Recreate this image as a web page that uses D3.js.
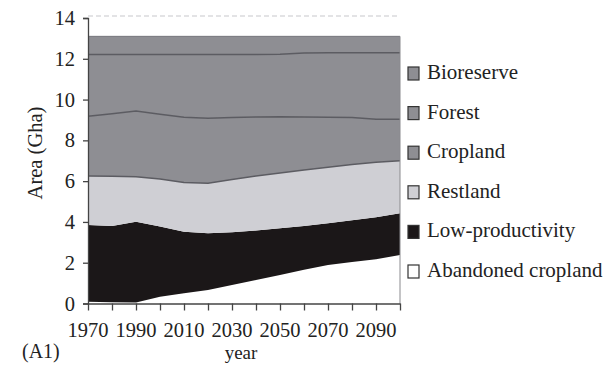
<!DOCTYPE html>
<html>
<head>
<meta charset="utf-8">
<script src="https://cdn.jsdelivr.net/npm/d3@7/dist/d3.min.js"></script>
<style>
  html, body { margin: 0; padding: 0; background: #fff; }
  svg { display: block; font-family: "Liberation Serif", "Times New Roman", serif; }
</style>
</head>
<body>
<svg id="chart" width="612" height="365"></svg>
<script>
// Land area by use, A1 scenario (Gha)
const years = [1970, 1980, 1990, 2000, 2010, 2020, 2030, 2040, 2050, 2060, 2070, 2080, 2090, 2100];
const abandonedCropland = [0.08, 0.06, 0.05, 0.33, 0.50, 0.66, 0.91, 1.15, 1.40, 1.65, 1.89, 2.03, 2.17, 2.38];
const lowProductivity   = [3.77, 3.74, 3.96, 3.44, 3.02, 2.78, 2.59, 2.43, 2.29, 2.15, 2.04, 2.05, 2.06, 2.04];
const restland          = [2.40, 2.44, 2.21, 2.33, 2.41, 2.46, 2.58, 2.67, 2.71, 2.75, 2.75, 2.74, 2.70, 2.58];
const cropland          = [2.93, 3.06, 3.22, 3.18, 3.20, 3.18, 3.04, 2.90, 2.76, 2.59, 2.45, 2.30, 2.10, 2.03];
const forest            = [3.03, 2.91, 2.77, 2.93, 3.08, 3.13, 3.09, 3.06, 3.06, 3.14, 3.16, 3.17, 3.26, 3.26];
const bioreserve        = [0.89, 0.89, 0.89, 0.89, 0.89, 0.89, 0.89, 0.89, 0.88, 0.82, 0.81, 0.81, 0.81, 0.81];

const yTicks = [0, 2, 4, 6, 8, 10, 12, 14];
const xTickYears = d3.range(1970, 2101, 10);
const xLabelYears = [1970, 1990, 2010, 2030, 2050, 2070, 2090];

// bottom-to-top stacking order
const seriesKeys = ["Abandoned cropland", "Low-productivity", "Restland", "Cropland", "Forest", "Bioreserve"];
const seriesValues = [abandonedCropland, lowProductivity, restland, cropland, forest, bioreserve];
const fills = {
  "Abandoned cropland": "#ffffff",
  "Low-productivity": "#1b1718",
  "Restland": "#cfcfd4",
  "Cropland": "#8e8e93",
  "Forest": "#8e8e93",
  "Bioreserve": "#8e8e93"
};
// legend is listed top-to-bottom
const legendKeys = ["Bioreserve", "Forest", "Cropland", "Restland", "Low-productivity", "Abandoned cropland"];

const table = years.map((yr, i) => {
  const row = { year: yr };
  seriesKeys.forEach((k, j) => { row[k] = seriesValues[j][i]; });
  return row;
});

const svg = d3.select("#chart");
const x = d3.scaleLinear().domain([1970, 2100]).range([88, 400]);
const y = d3.scaleLinear().domain([0, 14]).range([303.5, 18]);

const stacked = d3.stack().keys(seriesKeys)(table);

const area = d3.area()
  .x(d => x(d.data.year))
  .y0(d => y(d[0]))
  .y1(d => y(d[1]));

// dashed guide at the top value
svg.append("line")
  .attr("x1", x(1970)).attr("x2", x(2100))
  .attr("y1", y(14) - 2).attr("y2", y(14) - 2)
  .attr("stroke", "#c8c8cc").attr("stroke-width", 1.2)
  .attr("stroke-dasharray", "5,3");

svg.append("g").selectAll("path")
  .data(stacked)
  .join("path")
  .attr("d", area)
  .attr("fill", d => fills[d.key]);

// boundary lines between the grey upper layers
const edge = d3.line().x(d => x(d.data.year)).y(d => y(d[0]));
const edgeTop = d3.line().x(d => x(d.data.year)).y(d => y(d[1]));
svg.append("g").selectAll("path")
  .data(stacked.filter(s => ["Cropland", "Forest", "Bioreserve"].includes(s.key)))
  .join("path")
  .attr("d", edge)
  .attr("fill", "none")
  .attr("stroke", "#5c5c62")
  .attr("stroke-width", 1.5);
svg.append("path")
  .attr("d", edgeTop(stacked[stacked.length - 1]))
  .attr("fill", "none")
  .attr("stroke", "#77777c")
  .attr("stroke-width", 1);
svg.append("line")
  .attr("x1", x(2100)).attr("x2", x(2100))
  .attr("y1", y(d3.sum(seriesValues, s => s[s.length - 1]))).attr("y2", y(0))
  .attr("stroke", "#8a8a8e").attr("stroke-width", 1);

// y axis
const yAxis = svg.append("g")
  .attr("transform", `translate(${x(1970)},0)`)
  .call(d3.axisLeft(y).tickValues(yTicks).tickSize(5).tickPadding(8).tickFormat(d3.format("d")));
yAxis.select(".domain").attr("stroke", "#444").attr("stroke-width", 1.3);
yAxis.selectAll(".tick line").attr("stroke", "#444").attr("stroke-width", 1.3);
yAxis.selectAll("text")
  .attr("font-size", 20.5).attr("fill", "#222")
  .attr("font-family", "Liberation Serif");

// x axis
const xAxis = svg.append("g")
  .attr("transform", `translate(0,${y(0)})`)
  .call(d3.axisBottom(x).tickValues(xTickYears).tickSize(7).tickSizeOuter(0).tickFormat(""));
xAxis.select(".domain").attr("stroke", "#444").attr("stroke-width", 1.3);
xAxis.selectAll(".tick line").attr("stroke", "#444").attr("stroke-width", 1.3);

svg.append("g").selectAll("text")
  .data(xLabelYears)
  .join("text")
  .attr("x", d => x(d))
  .attr("y", 337)
  .attr("text-anchor", "middle")
  .attr("font-size", 20.5)
  .attr("fill", "#222")
  .text(d => d);

// axis titles
svg.append("text")
  .attr("transform", `translate(42,153) rotate(-90)`)
  .attr("text-anchor", "middle")
  .attr("font-size", 20.5)
  .attr("fill", "#222")
  .text("Area (Gha)");

svg.append("text")
  .attr("x", 241).attr("y", 359)
  .attr("text-anchor", "middle")
  .attr("font-size", 19)
  .attr("fill", "#222")
  .text("year");

svg.append("text")
  .attr("x", 22).attr("y", 358)
  .attr("font-size", 20)
  .attr("fill", "#222")
  .text("(A1)");

// legend
const legend = svg.append("g").selectAll("g")
  .data(legendKeys)
  .join("g")
  .attr("transform", (d, i) => `translate(408,${67 + i * 39.6})`);
legend.append("rect")
  .attr("width", 11).attr("height", 13)
  .attr("fill", d => fills[d])
  .attr("stroke", "#333").attr("stroke-width", 1.2);
legend.append("text")
  .attr("x", 19).attr("y", 12)
  .attr("font-size", 21)
  .attr("fill", "#222")
  .text(d => d);
</script>
</body>
</html>
